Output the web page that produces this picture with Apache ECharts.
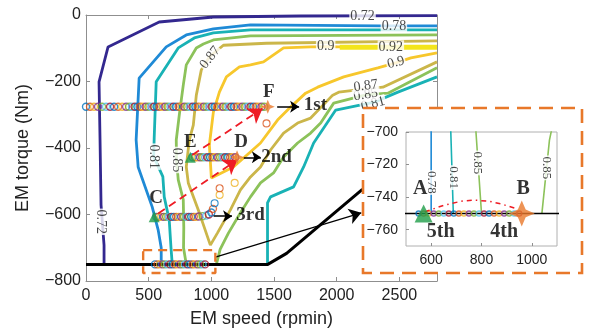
<!DOCTYPE html>
<html>
<head>
<meta charset="utf-8">
<script src="https://cdn.jsdelivr.net/npm/echarts@6/dist/echarts.min.js"></script>
<style>
  html, body { margin: 0; padding: 0; background: #fff; }
  #chart { width: 589px; height: 336px; }
</style>
</head>
<body>
<div id="chart"></div>
<script>
// ---- efficiency contour lines, [speed rpm, torque Nm] ----
const c072 = [[2800,-2],[1712,-3],[1016,-6],[584,-21],[176,-96],[104,-201],[112,-376],[120,-571],[144,-692],[144,-750]];
const c078 = [[2800,-33],[2352,-33],[1312,-30],[1016,-42],[800,-60],[640,-96],[424,-190],[400,-376],[416,-457],[528,-577],[576,-647],[600,-700],[600,-750]];
const c081a = [[2800,-45],[1312,-45],[1016,-54],[864,-69],[736,-99],[560,-201],[544,-370],[540,-426],[613,-486],[624,-547],[664,-617],[678,-700],[688,-750]];
const c081b = [[2800,-186],[2488,-232],[2300,-262],[1992,-286],[1816,-385],[1736,-457],[1656,-517],[1472,-547],[1448,-565],[1448,-750]];
const c085a = [[2800,-60],[1312,-63],[1016,-75],[936,-87],[880,-99],[800,-150],[776,-211],[744,-301],[720,-376],[722,-436],[736,-496],[776,-556],[780,-640],[778,-700],[800,-750]];
const c085b = [[2800,-159],[2408,-235],[2232,-240],[1976,-265],[1872,-325],[1792,-355],[1688,-385],[1576,-427],[1496,-475],[1392,-505],[1312,-547],[1232,-595],[1136,-656],[1070,-705],[1040,-750]];
const c087 = [[2800,-78],[1440,-85],[1096,-91],[984,-126],[920,-165],[880,-241],[856,-331],[824,-376],[800,-457],[816,-505],[904,-595],[992,-692],[1048,-656],[1152,-586],[1232,-526],[1312,-487],[1392,-457],[1472,-406],[1576,-355],[1688,-325],[1792,-310],[1968,-241],[2016,-232],[2232,-222],[2368,-217],[2800,-141]];
const c090 = [[2800,-96],[2016,-96],[1912,-95],[1792,-96],[1576,-99],[1416,-141],[1312,-150],[1224,-156],[1120,-186],[1064,-232],[1016,-292],[984,-391],[1000,-490],[1176,-457],[1392,-385],[1528,-316],[1632,-277],[1752,-235],[1848,-217],[2056,-186],[2328,-159],[2472,-144],[2592,-129],[2800,-114]];
const c092 = [[2024,-97],[2800,-97]];

// contour level labels: [text, speed, torque, rotation]
const levelLabels = [
  ['0.72', 2206, -3, 0], ['0.72', 120, -622, -90],
  ['0.78', 2456, -33, 0],
  ['0.81', 540, -426, -90], ['0.81', 2290, -268, 15],
  ['0.85', 722, -436, -90], ['0.85', 2232, -240, 10],
  ['0.87', 990, -128, 52], ['0.87', 2232, -213, 8],
  ['0.9', 1912, -95, 0], ['0.9', 2472, -143, 15],
  ['0.92', 2432, -97, 0]
];
const insetLevelLabels = [
  ['0.78', 600, -731, -90], ['0.81', 689, -728, -90],
  ['0.85', 782, -719, -90], ['0.85', 1057, -722, -90]
];

// tick label values
const speedTicks = [0, 500, 1000, 1500, 2000, 2500];
const insetSpeedTicks = [600, 800, 1000];
const insetTorqueTicks = [-760, -740, -720, -700];

// maximum torque envelope
const maxTorque = [[0,-750],[1450,-750],[1600,-717],[2200,-526],[2800,-440]];

// operating point sequences
const rowFSpeed = [0,32,64,96,128,160,192,224,256,288,320,344,366,388,410,432,454,476,498,520,542,564,586,608,630,652,674,696,718,740,762,784,806,828,850,872,894,916,938,960,982,1004,1026,1048,1070,1092,1114,1136,1158,1180,1202,1224,1246,1268,1290,1312,1334,1356,1378,1400,1422];
const rowFTorque = -276;
const rowEDSpeed = [850,870,890,910,930,950,970,990,1010,1030,1050,1070,1090,1110,1130,1150,1170,1190];
const rowEDTorque = -428;
const rowC = [[560,-607],[580,-607],[600,-607],[620,-607],[640,-607],[660,-607],[680,-607],[700,-607],[720,-607],[740,-607],[760,-607],[780,-607],[800,-607],[820,-607],[840,-607],[860,-607],[880,-607],[900,-606],[930,-605],[960,-603],[980,-600],[1000,-594],[1013,-583]];
const transit = [[1026,-566],[1066,-541],[1066,-521],[1186,-505],[1440,-326]];
const rowABSpeed = [550,570,590,610,630,650,670,690,710,730,750,770,790,810,830,850,870,890,910,930,950];
const rowABTorque = -750;

const ptA = [570,-750], ptB = [960,-750], ptC = [544,-607], ptD = [1205,-428], ptE = [832,-428], ptF = [1450,-276];

const gearArrows = [[[1525,-276],[1700,-276]], [[1258,-428],[1395,-428]], [[1018,-605],[1165,-605]]];
const shiftArrows = [[[848,-421],[1408,-281]], [[576,-597],[1208,-435]]];
const zoomArrow = [[1032,-728],[2196,-595]];
const zoomBox = [[456,-707],[1032,-707],[1032,-776],[456,-776],[456,-707]];
const shiftCurve = [[575,-749],[650,-745],[720,-742.5],[767,-741.8],[830,-742.5],[883,-744.4],[937,-747]];

const pointNames = [['F',1458,-231],['E',832,-381],['D',1237,-381],['C',560,-551],['1st',1830,-272],['2nd',1520,-427],['3rd',1312,-601]];
const insetNames = [['A',557,-735],['B',966,-735],['5th',638,-761],['4th',890,-761]];

// ---- styling ----
const palette = ['#0072BD','#D95319','#EDB120','#7E2F8E','#77AC30','#4DBEEE','#A2142F'];
const levelColors = { c072:'#33288f', c078:'#1f8ad6', c081:'#19b2b5', c085:'#8cc25a', c087:'#cbb64a', c090:'#f7c72c', c092:'#f3e51c' };
const axisGray = '#8f8f8f';
const starPath = 'path://M0,-10 L3,-3 L10,0 L3,3 L0,10 L-3,3 L-10,0 L-3,-3 Z';
const minus = v => String(v).replace('-', '\u2212');
const plain = v => String(v);

function contour(data, color, grid, z, width) {
  return { type: 'line', data, xAxisIndex: grid ? 2 : 0, yAxisIndex: grid ? 2 : 0, symbol: 'none',
    lineStyle: { color, width: width || 2.8 }, z, silent: true, animation: false, clip: true };
}
function ringSeries(points, grid, size, z) {
  return { type: 'scatter', xAxisIndex: grid ? 2 : 0, yAxisIndex: grid ? 2 : 0, symbol: 'circle', symbolSize: size, z,
    data: points.map((p, i) => ({ value: p, itemStyle: { color: 'rgba(255,255,255,0)', borderColor: palette[i % 7], borderWidth: 1.4 } })),
    animation: false, silent: true };
}
function textSeries(items, grid, font, z) {
  return { type: 'scatter', xAxisIndex: grid ? 2 : 0, yAxisIndex: grid ? 2 : 0, symbolSize: 1, z,
    itemStyle: { color: 'transparent' },
    data: items.map(t => ({ name: t[0], value: [t[1], t[2]], label: { rotate: t[3] || 0 } })),
    label: Object.assign({ show: true, position: 'inside', formatter: '{b}', color: '#1a1a1a' }, font),
    animation: false, silent: true };
}
function arrowSeries(segs, grid, style, size, z, poly) {
  return { type: 'lines', coordinateSystem: 'cartesian2d', xAxisIndex: grid ? 2 : 0, yAxisIndex: grid ? 2 : 0,
    polyline: !!poly, symbol: ['none', 'arrow'], symbolSize: size, z,
    data: segs.map(s => ({ coords: s })), lineStyle: Object.assign({ opacity: 1 }, style), animation: false, silent: true };
}
function markerSeries(pts, grid, symbol, size, color, z) {
  return { type: 'scatter', xAxisIndex: grid ? 2 : 0, yAxisIndex: grid ? 2 : 0, symbol, symbolSize: size, z,
    itemStyle: { color }, data: pts, animation: false, silent: true };
}

const rowF = rowFSpeed.map(s => [s, rowFTorque]);
const rowED = rowEDSpeed.map(s => [s, rowEDTorque]);
const rowAB = rowABSpeed.map(s => [s, rowABTorque]);

const tickFont = { color: '#222', fontFamily: 'Liberation Sans', fontSize: 16 };
const insetFont = { color: '#222', fontFamily: 'Liberation Sans', fontSize: 14 };
const titleFont = { color: '#222', fontFamily: 'Liberation Sans', fontSize: 18 };

const contourSet = (grid, z) => [
  contour(c072, levelColors.c072, grid, z), contour(c078, levelColors.c078, grid, z),
  contour(c081a, levelColors.c081, grid, z), contour(c081b, levelColors.c081, grid, z),
  contour(c085a, levelColors.c085, grid, z), contour(c085b, levelColors.c085, grid, z),
  contour(c087, levelColors.c087, grid, z), contour(c090, levelColors.c090, grid, z),
  contour(c092, levelColors.c092, grid, z, 5)
];

const chart = echarts.init(document.getElementById('chart'), null, { renderer: 'canvas' });
chart.setOption({
  animation: false,
  grid: [
    { left: 86, top: 15, width: 351, height: 266 },
    { left: 406, top: 132, width: 151, height: 114, show: true, backgroundColor: '#fff', borderColor: '#b0b0b0', borderWidth: 1, z: 11 }
  ],
  xAxis: [
    { gridIndex: 0, type: 'value', min: 0, max: 2800, interval: 500, position: 'bottom',
      name: 'EM speed (rpmin)', nameLocation: 'middle', nameGap: 29, nameTextStyle: titleFont,
      axisLine: { onZero: false, lineStyle: { color: axisGray } },
      axisTick: { inside: true, length: 4, customValues: speedTicks, lineStyle: { color: axisGray } },
      axisLabel: Object.assign({ margin: 7, formatter: plain, customValues: speedTicks }, tickFont), splitLine: { show: false } },
    { gridIndex: 0, type: 'value', min: 0, max: 2800, interval: 500, position: 'top',
      axisLine: { onZero: false, lineStyle: { color: axisGray } },
      axisTick: { inside: true, length: 4, customValues: speedTicks, lineStyle: { color: axisGray } },
      axisLabel: { show: false }, splitLine: { show: false } },
    { gridIndex: 1, type: 'value', min: 500, max: 1100, position: 'bottom', z: 12,
      axisLine: { show: false, onZero: false },
      axisTick: { inside: true, length: 3, customValues: insetSpeedTicks, lineStyle: { color: axisGray } },
      axisLabel: Object.assign({ margin: 7, formatter: plain, customValues: insetSpeedTicks }, insetFont), splitLine: { show: false } }
  ],
  yAxis: [
    { gridIndex: 0, type: 'value', min: -800, max: 0, interval: 200, position: 'left',
      name: 'EM torque (Nm)', nameLocation: 'middle', nameGap: 54, nameRotate: 90, nameTextStyle: titleFont,
      axisLine: { onZero: false, lineStyle: { color: axisGray } }, axisTick: { inside: true, length: 4, lineStyle: { color: axisGray } },
      axisLabel: Object.assign({ margin: 5, formatter: minus }, tickFont), splitLine: { show: false } },
    { gridIndex: 0, type: 'value', min: -800, max: 0, interval: 200, position: 'right',
      axisLine: { onZero: false, lineStyle: { color: axisGray } }, axisTick: { inside: true, length: 4, lineStyle: { color: axisGray } },
      axisLabel: { show: false }, splitLine: { show: false } },
    { gridIndex: 1, type: 'value', min: -770, max: -700, position: 'left', z: 12,
      axisLine: { show: false, onZero: false },
      axisTick: { inside: true, length: 3, customValues: insetTorqueTicks, lineStyle: { color: axisGray } },
      axisLabel: Object.assign({ margin: 8, formatter: minus, customValues: insetTorqueTicks }, insetFont), splitLine: { show: false } }
  ],
  graphic: [
    { type: 'rect', z: 10, shape: { x: 363, y: 108, width: 219, height: 165 },
      style: { fill: '#fff', stroke: '#e8782a', lineWidth: 2.6, lineDash: [14, 8] } }
  ],
  series: [
    // main map
    ...contourSet(false, 2),
    { type: 'line', data: maxTorque, symbol: 'none', lineStyle: { color: '#000', width: 3 }, z: 2, silent: true },
    { type: 'line', data: zoomBox, symbol: 'none', lineStyle: { color: '#e8782a', width: 2.4, type: [9, 6] }, z: 3, silent: true },
    textSeries(levelLabels, false, { fontFamily: 'Liberation Serif', fontSize: 14, backgroundColor: '#fff', padding: [0, 1] }, 3),
    arrowSeries([zoomArrow], false, { color: '#000', width: 1.2 }, 12, 3),
    ringSeries(rowF, false, 7, 4),
    ringSeries(rowED, false, 7, 4),
    ringSeries(rowC, false, 7, 4),
    ringSeries(rowAB, false, 7, 4),
    { type: 'scatter', symbol: 'circle', symbolSize: 7, z: 4, silent: true,
      data: transit.map((p, i) => ({ value: p, itemStyle: { color: 'rgba(255,255,255,0)', borderColor: ['#0072BD','#EDB120','#D95319','#EDB120','#D95319'][i], borderWidth: 1.1 } })) },
    arrowSeries(shiftArrows, false, { color: '#ee1c25', width: 1.8, type: [8, 5] }, 14, 5),
    arrowSeries(gearArrows, false, { color: '#000', width: 1.6 }, 9, 5),
    markerSeries([ptE, ptC], false, 'triangle', 11, '#1f9d48', 6),
    markerSeries([ptF, ptD], false, starPath, 14, '#e8782a', 6),
    textSeries(pointNames, false, { fontFamily: 'Liberation Serif', fontWeight: 'bold', fontSize: 19, color: '#000' }, 6),

    // inset view of the same map
    ...contourSet(true, 12).map(s => Object.assign(s, { lineStyle: Object.assign(s.lineStyle, { width: 1.6 }) })),
    { type: 'line', xAxisIndex: 2, yAxisIndex: 2, data: maxTorque, symbol: 'none', lineStyle: { color: '#000', width: 1.5 }, z: 12, silent: true, clip: true },
    textSeries(insetLevelLabels, true, { fontFamily: 'Liberation Serif', fontSize: 13, backgroundColor: '#fff', padding: [0, 1] }, 13),
    ringSeries(rowAB, true, 5, 14),
    arrowSeries([shiftCurve], true, { color: '#ee1c25', width: 1.5, type: [5, 4, 1.5, 4] }, 8, 15, true),
    markerSeries([ptA], true, 'triangle', 18, '#1f9d48', 16),
    markerSeries([ptB], true, starPath, 26, '#e8782a', 16),
    textSeries(insetNames, true, { fontFamily: 'Liberation Serif', fontWeight: 'bold', fontSize: 20, color: '#000' }, 16)
  ]
});
</script>
</body>
</html>
